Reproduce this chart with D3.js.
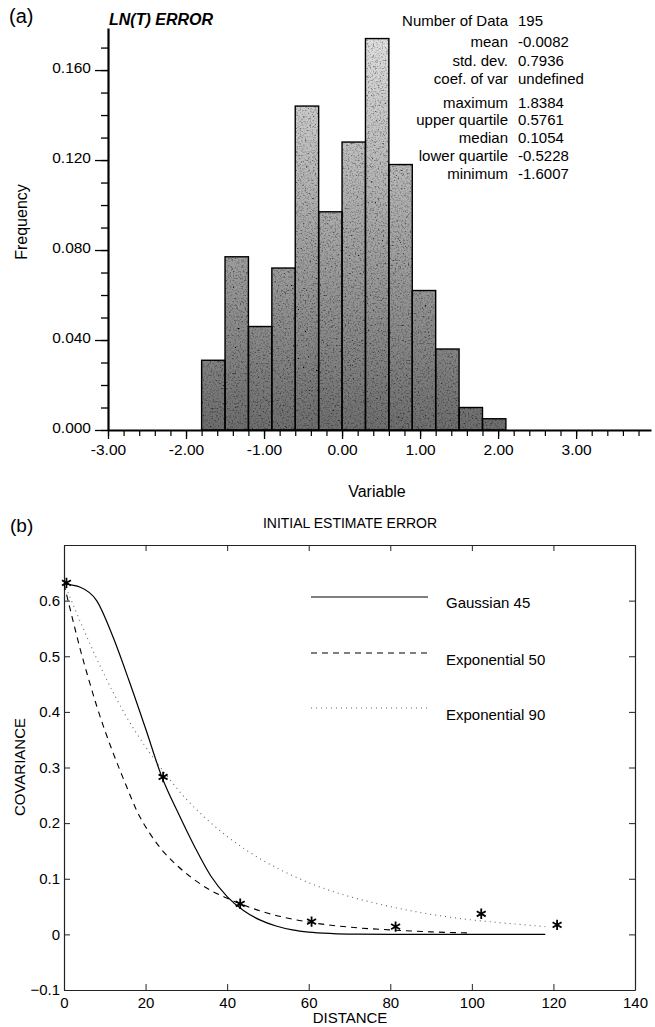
<!DOCTYPE html>
<html><head><meta charset="utf-8">
<script src="https://cdn.jsdelivr.net/npm/d3@7"></script>
<style>body{margin:0;background:#fff}svg{display:block;font-family:"Liberation Sans",Arial,sans-serif}</style>
</head><body>
<script>
// ---------- DATA (a) histogram ----------
const binStarts = [-1.8,-1.5,-1.2,-0.9,-0.6,-0.3,0.0,0.3,0.6,0.9,1.2,1.5,1.8];
const binWidth = 0.3;
const frequencies = [0.031,0.077,0.046,0.072,0.144,0.097,0.128,0.174,0.118,0.062,0.036,0.010,0.005];
const yMajorTicks = [0,0.04,0.08,0.12,0.16];
const yMajorLabels = ["0.000","0.040","0.080","0.120","0.160"];
const xMajorTicks = [-3,-2,-1,0,1,2,3];
const xMajorLabels = ["-3.00","-2.00","-1.00","0.00","1.00","2.00","3.00"];
const statLabels = ["Number of Data","mean","std. dev.","coef. of var","maximum","upper quartile","median","lower quartile","minimum"];
const statValues = ["195","-0.0082","0.7936","undefined","1.8384","0.5761","0.1054","-0.5228","-1.6007"];

// ---------- DATA (b) covariance ----------
const gaussDist = [0,4,8,12,16,20,24,28,32,36,40,44,48,52,56,60,66,72,80,90,100,110,118];
const gaussCov  = [0.630,0.624,0.600,0.535,0.455,0.370,0.283,0.218,0.158,0.105,0.068,0.043,0.026,0.015,0.008,0.004,0.0015,0.0005,0,0,0,0,0];
const exp50Dist = [0,2,4,6,8,10,12,15,18,21,24,28,32,36,40,45,50,55,60,70,80,90,100];
const exp50Cov  = [0.630,0.570,0.512,0.460,0.411,0.367,0.327,0.272,0.220,0.182,0.152,0.122,0.098,0.079,0.065,0.050,0.038,0.029,0.022,0.013,0.008,0.0045,0.0025];
const exp90Dist = [0,5,10,15,20,25,30,35,40,45,50,60,70,80,90,100,110,118];
const exp90Cov  = [0.632,0.545,0.465,0.395,0.337,0.287,0.243,0.207,0.176,0.150,0.128,0.093,0.068,0.050,0.036,0.026,0.019,0.014];
const starDist = [0.6,24.3,43.2,60.7,81.3,102.3,120.9];
const starCov  = [0.632,0.283,0.055,0.023,0.014,0.037,0.017];
const yCTicks = [-0.1,0,0.1,0.2,0.3,0.4,0.5,0.6];
const yCLabels = ["\u22120.1","0","0.1","0.2","0.3","0.4","0.5","0.6"];
const xCTicks = [0,20,40,60,80,100,120,140];
const xCLabels = ["0","20","40","60","80","100","120","140"];
const legendNames = ["Gaussian 45","Exponential 50","Exponential 90"];

const svg = d3.select("body").append("svg").attr("width",655).attr("height",1027);
const defs = svg.append("defs");
const grad = defs.append("linearGradient").attr("id","barGrad")
  .attr("gradientUnits","userSpaceOnUse").attr("x1",0).attr("y1",30).attr("x2",0).attr("y2",430);
grad.append("stop").attr("offset","0").attr("stop-color","#e2e2e2");
grad.append("stop").attr("offset","0.5").attr("stop-color","#a6a6a6");
grad.append("stop").attr("offset","1").attr("stop-color","#6e6e6e");
const filt = defs.append("filter").attr("id","grain").attr("x",0).attr("y",0).attr("width","100%").attr("height","100%");
filt.append("feTurbulence").attr("type","fractalNoise").attr("baseFrequency","0.6").attr("numOctaves",3).attr("seed",4).attr("result","noise");
filt.append("feColorMatrix").attr("in","noise").attr("type","matrix")
  .attr("values","0.33 0.33 0.33 0 0  0.33 0.33 0.33 0 0  0.33 0.33 0.33 0 0  0 0 0 0 1").attr("result","gray");
const ct = filt.append("feComponentTransfer").attr("in","gray").attr("result","g2");
["feFuncR","feFuncG","feFuncB"].forEach(f=>ct.append(f).attr("type","linear").attr("slope",3.5).attr("intercept",-0.8));
filt.append("feBlend").attr("in","SourceGraphic").attr("in2","g2").attr("mode","multiply").attr("result","blend");
filt.append("feComposite").attr("in","blend").attr("in2","SourceGraphic").attr("operator","in");

// ================= (a) =================
const xH = d3.scaleLinear().domain([-3,3.96]).range([108,651]);
const yH = d3.scaleLinear().domain([0,0.1787]).range([430,28]);

svg.append("text").attr("x",9).attr("y",23).attr("font-size",20).text("(a)");
svg.append("text").attr("x",109).attr("y",25).attr("font-size",16).attr("font-weight","bold").attr("font-style","italic").text("LN(T) ERROR");

const bars = svg.append("g");
bars.append("g").attr("filter","url(#grain)").selectAll("rect").data(binStarts).join("rect")
  .attr("x",d=>xH(d)).attr("width",d=>xH(d+binWidth)-xH(d))
  .attr("y",(d,i)=>yH(frequencies[i])).attr("height",(d,i)=>yH(0)-yH(frequencies[i]))
  .attr("fill","url(#barGrad)");
bars.append("g").selectAll("rect").data(binStarts).join("rect")
  .attr("x",d=>xH(d)).attr("width",d=>xH(d+binWidth)-xH(d))
  .attr("y",(d,i)=>yH(frequencies[i])).attr("height",(d,i)=>yH(0)-yH(frequencies[i]))
  .attr("fill","none").attr("stroke","#000").attr("stroke-width",1.4);

// y axis
const yMinor = d3.range(0,18).map(i=>i/100);
const gyMin = svg.append("g").attr("transform","translate(108,0)")
  .call(d3.axisLeft(yH).tickValues(yMinor).tickSize(7).tickSizeOuter(0).tickFormat(""));
gyMin.select(".domain").attr("stroke-width",2.2);
gyMin.selectAll(".tick line").attr("stroke-width",1.3);
const gyMaj = svg.append("g").attr("transform","translate(108,0)")
  .call(d3.axisLeft(yH).tickValues(yMajorTicks).tickSize(13).tickPadding(4).tickFormat((d,i)=>yMajorLabels[i]));
gyMaj.select(".domain").remove();
gyMaj.selectAll(".tick line").attr("stroke-width",1.3);
gyMaj.selectAll("text").attr("font-size",15.5).attr("font-family","Liberation Sans, Arial").attr("dy","0.15em").attr("fill","#000");

// x axis
const xMinor = d3.range(-15,20).map(i=>i*0.2);
const gxMin = svg.append("g").attr("transform","translate(0,430)")
  .call(d3.axisBottom(xH).tickValues(xMinor).tickSize(6).tickSizeOuter(0).tickFormat(""));
gxMin.select(".domain").attr("stroke-width",2.2);
gxMin.selectAll(".tick line").attr("stroke-width",1.2);
const gxMaj = svg.append("g").attr("transform","translate(0,430)")
  .call(d3.axisBottom(xH).tickValues(xMajorTicks).tickSize(9).tickPadding(5).tickFormat((d,i)=>xMajorLabels[i]));
gxMaj.select(".domain").remove();
gxMaj.selectAll(".tick line").attr("stroke-width",1.3);
gxMaj.selectAll("text").attr("font-size",15.5).attr("font-family","Liberation Sans, Arial").attr("fill","#000");

svg.append("text").attr("x",377).attr("y",497).attr("text-anchor","middle").attr("font-size",16).text("Variable");
svg.append("text").attr("transform","translate(27,222) rotate(-90)").attr("text-anchor","middle").attr("font-size",16).text("Frequency");

// stats
const statY = [26,47,65.5,84,107.5,125,143,161,179];
const st = svg.append("g").attr("font-size",15);
st.selectAll("text.l").data(statLabels).join("text").attr("class","l")
  .attr("x",508).attr("y",(d,i)=>statY[i]).attr("text-anchor","end").text(d=>d);
st.selectAll("text.v").data(statValues).join("text").attr("class","v")
  .attr("x",518).attr("y",(d,i)=>statY[i]).text(d=>d);

// ================= (b) =================
const xC = d3.scaleLinear().domain([0,140]).range([64,635]);
const yC = d3.scaleLinear().domain([-0.1,0.7]).range([990,545]);

svg.append("text").attr("x",10).attr("y",532).attr("font-size",19).text("(b)");
svg.append("text").attr("x",350).attr("y",528).attr("text-anchor","middle").attr("font-size",14).text("INITIAL ESTIMATE ERROR");

const axStyle = g => { g.select(".domain").attr("stroke","#222").attr("stroke-width",1.2);
  g.selectAll(".tick line").attr("stroke","#222");
  g.selectAll("text").attr("font-size",15).attr("font-family","Liberation Sans, Arial").attr("fill","#000"); };
svg.append("g").attr("transform","translate(64,0)")
  .call(d3.axisLeft(yC).tickValues(yCTicks).tickSize(-6).tickSizeOuter(0).tickPadding(4).tickFormat((d,i)=>yCLabels[i])).call(axStyle);
svg.append("g").attr("transform","translate(635,0)")
  .call(d3.axisRight(yC).tickValues(yCTicks).tickSize(-6).tickSizeOuter(0).tickFormat("")).call(axStyle);
svg.append("g").attr("transform","translate(0,990)")
  .call(d3.axisBottom(xC).tickValues(xCTicks).tickSize(-6).tickSizeOuter(0).tickPadding(7).tickFormat((d,i)=>xCLabels[i])).call(axStyle);
svg.append("g").attr("transform","translate(0,545)")
  .call(d3.axisTop(xC).tickValues(xCTicks).tickSize(-6).tickSizeOuter(0).tickFormat("")).call(axStyle);

svg.append("text").attr("x",350).attr("y",1023).attr("text-anchor","middle").attr("font-size",15).text("DISTANCE");
svg.append("text").attr("transform","translate(25,767) rotate(-90)").attr("text-anchor","middle").attr("font-size",15).text("COVARIANCE");

const line = d3.line().x(d=>xC(d[0])).y(d=>yC(d[1])).curve(d3.curveMonotoneX);
const styles = [
  {d:gaussDist.map((x,i)=>[x,gaussCov[i]]), stroke:"#000", dash:null, w:1.2},
  {d:exp50Dist.map((x,i)=>[x,exp50Cov[i]]), stroke:"#000", dash:"6,5", w:1.1},
  {d:exp90Dist.map((x,i)=>[x,exp90Cov[i]]), stroke:"#666", dash:"1,4", w:1.1}
];
styles.forEach(s=>{
  svg.append("path").datum(s.d).attr("d",line).attr("fill","none")
    .attr("stroke",s.stroke).attr("stroke-width",s.w).attr("stroke-dasharray",s.dash);
});
svg.append("g").selectAll("path").data(starDist).join("path")
  .attr("transform",(d,i)=>`translate(${xC(d)},${yC(starCov[i])})`)
  .attr("d",d3.symbol(d3.symbolAsterisk,75)).attr("fill","none").attr("stroke","#000").attr("stroke-width",1.8);

// legend
const legLineY = [597,653,708];
const legTextY = [608,665,720];
styles.forEach((s,i)=>{
  svg.append("line").attr("x1",311).attr("x2",428).attr("y1",legLineY[i]).attr("y2",legLineY[i])
    .attr("stroke",s.stroke).attr("stroke-width",s.w).attr("stroke-dasharray",s.dash);
  svg.append("text").attr("x",446).attr("y",legTextY[i]).attr("font-size",15).text(legendNames[i]);
});
</script>
</body></html>
